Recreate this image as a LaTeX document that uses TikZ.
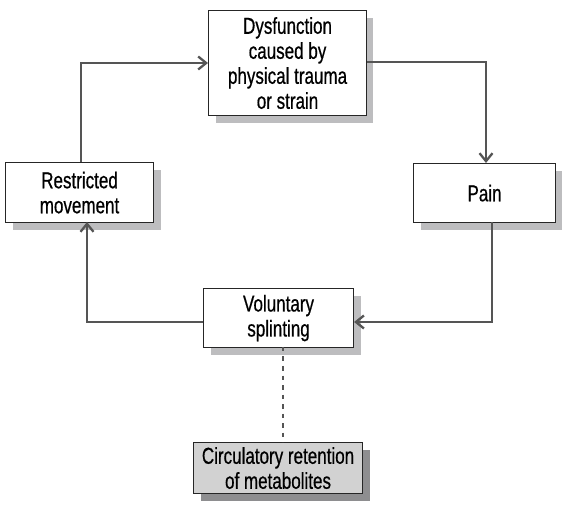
\documentclass[tikz,border=0pt]{standalone}
\usepackage{fontspec}
\setmainfont{Liberation Sans}
\newfontfamily\narrowsans[FakeStretch=0.74,FakeBold=0.6]{Liberation Sans}
\usetikzlibrary{arrows.meta}
\definecolor{shadowgray}{HTML}{BDBDBF}
\definecolor{linegray}{HTML}{555555}
\definecolor{boxfill}{HTML}{D2D2D2}
\definecolor{darkshadow}{HTML}{8E8E90}
\tikzset{
  x=1pt, y=-1pt,
  stage/.style={draw=black!85, line width=1.1pt, fill=white, align=center,
    font=\narrowsans\fontsize{23}{25}\selectfont, inner sep=0pt, anchor=north west},
  loop/.style={draw=linegray, line width=2.7pt,
    -{Straight Barb[length=8pt, width=13pt, line width=2.3pt]}},
  link/.style={draw=linegray, line width=2.7pt, dash pattern=on 4.5pt off 5pt}
}
\begin{document}
\begin{tikzpicture}
\useasboundingbox (0,0) rectangle (562,510);
% shadows
\fill[shadowgray] (216,18) rectangle (373,123);
\fill[shadowgray] (421,171) rectangle (562,230);
\fill[shadowgray] (13,170) rectangle (161,230);
\fill[shadowgray] (211,296) rectangle (361,355);
\fill[darkshadow] (201,450) rectangle (370,501);
% boxes
\node[stage, minimum width=158pt, minimum height=105pt] (top) at (208,10)
  {Dysfunction\\caused by\\physical trauma\\or strain};
\node[stage, minimum width=142pt, minimum height=59pt] (pain) at (413,163) {Pain};
\node[stage, minimum width=148pt, minimum height=60pt] (restr) at (5,162)
  {Restricted\\movement};
\node[stage, minimum width=150pt, minimum height=59pt] (volun) at (203,288)
  {Voluntary\\splinting};
\node[stage, fill=boxfill, minimum width=169pt, minimum height=51pt] (circ) at (193,442)
  {Circulatory retention\\of metabolites};
% cycle connectors
\draw[loop] (restr.north -| 81,0) |- (top.west |- 0,63);
\draw[loop] (top.east |- 0,62) -| (486,163);
\draw[loop] (492,222) |- (volun.east |- 0,322);
\draw[loop] (volun.west |- 0,322) -| (87,222);
% dashed link
\draw[link] (283,347) -- (283,442);
\end{tikzpicture}
\end{document}
